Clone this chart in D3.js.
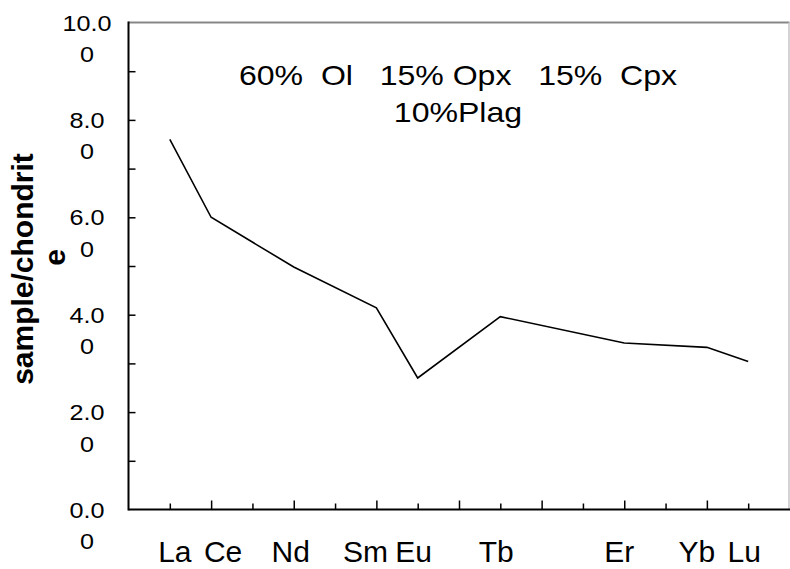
<!DOCTYPE html>
<html>
<head>
<meta charset="utf-8">
<script src="https://cdn.jsdelivr.net/npm/d3@7"></script>
<style>
  body { margin: 0; background: #fff; }
  svg { display: block; font-family: "Liberation Sans", Arial, sans-serif; }
</style>
</head>
<body>
<div id="chart"></div>
<script>
// REE pattern, sample / chondrite
const elements = ["La", "Ce", "Nd", "Sm", "Eu", "Tb", "Er", "Yb", "Lu"];
const elementPos = [1, 2, 4, 6, 7, 9, 12, 14, 15];
const values = [7.6, 6.0, 4.98, 4.14, 2.7, 3.96, 3.42, 3.33, 3.04];

const yTicks = [0, 2, 4, 6, 8, 10];
const yTickLabels = ["0.0|0", "2.0|0", "4.0|0", "6.0|0", "8.0|0", "10.0|0"];
const yTitle = ["sample/chondrit", "e"];
const noteLines = ["60%  Ol   15% Opx   15%  Cpx", "10%Plag"];

const width = 790, height = 569;
const plot = { left: 128.5, right: 789.5, top: 22.5, bottom: 509.5 };
const stretch = 1.145; // the original text boxes are a little wider than plain Arial

const svg = d3.select("#chart").append("svg")
  .attr("width", width)
  .attr("height", height);

const x = d3.scaleLinear().domain([0, 16]).range([plot.left, plot.right]);
const y = d3.scaleLinear().domain([0, 10]).range([plot.bottom, plot.top]);

// plot frame (top / right in grey like the original)
svg.append("line")
  .attr("x1", plot.left).attr("x2", plot.right)
  .attr("y1", plot.top).attr("y2", plot.top)
  .attr("stroke", "#878787").attr("stroke-width", 2);
svg.append("line")
  .attr("x1", plot.right - 0.5).attr("x2", plot.right - 0.5)
  .attr("y1", plot.top).attr("y2", plot.bottom)
  .attr("stroke", "#c4c4c4").attr("stroke-width", 1.5);

// x axis, ticks pointing inwards
const xAxis = d3.axisTop(x)
  .tickValues(d3.range(1, 16))
  .tickSize(6)
  .tickFormat("");
const gx = svg.append("g")
  .attr("transform", "translate(0," + plot.bottom + ")")
  .call(xAxis);
gx.select(".domain").remove();
gx.selectAll(".tick line")
  .attr("stroke", "#000").attr("stroke-width", 1.5)
  .attr("y2", d => d % 2 === 0 ? -9 : -6);

// y axis, ticks pointing inwards
const yAxis = d3.axisRight(y)
  .tickValues(d3.range(1, 10))
  .tickSize(7)
  .tickFormat("");
const gy = svg.append("g")
  .attr("transform", "translate(" + plot.left + ",0)")
  .call(yAxis);
gy.select(".domain").remove();
gy.selectAll(".tick line")
  .attr("stroke", "#000").attr("stroke-width", 1.5);

// axis lines
svg.append("line")
  .attr("x1", plot.left).attr("x2", width)
  .attr("y1", plot.bottom).attr("y2", plot.bottom)
  .attr("stroke", "#000").attr("stroke-width", 2);
svg.append("line")
  .attr("x1", plot.left).attr("x2", plot.left)
  .attr("y1", plot.top - 1).attr("y2", plot.bottom + 1)
  .attr("stroke", "#000").attr("stroke-width", 2);

// y tick labels, wrapped onto two lines
const yl = svg.append("g").selectAll("text")
  .data(yTicks)
  .join("text")
  .attr("transform", d => "translate(87," + (y(d) + 8) + ") scale(" + stretch + ",1)")
  .attr("text-anchor", "middle")
  .attr("font-size", 22)
  .attr("fill", "#000");
yl.each(function (d, i) {
  const parts = yTickLabels[i].split("|");
  const t = d3.select(this);
  parts.forEach((p, k) => {
    t.append("tspan")
      .attr("x", 0)
      .attr("y", k * 31.5)
      .text(p);
  });
});

// element labels under the axis
const nudge = { La: 5, Ce: 12, Nd: -3, Sm: -11, Eu: -4, Tb: -4, Er: -5, Yb: -10, Lu: -4 };
svg.append("g").selectAll("text")
  .data(elements)
  .join("text")
  .attr("x", (d, i) => x(elementPos[i]) + nudge[d])
  .attr("y", 562)
  .attr("text-anchor", "middle")
  .attr("font-size", 30)
  .attr("fill", "#000")
  .text(d => d);

// the pattern
const line = d3.line()
  .x((d, i) => x(elementPos[i]))
  .y(d => y(d));
svg.append("path")
  .datum(values)
  .attr("d", line)
  .attr("fill", "none")
  .attr("stroke", "#000")
  .attr("stroke-width", 1.6)
  .attr("stroke-linejoin", "miter");

// y axis title
const title = svg.append("text")
  .attr("transform", "translate(33,269) rotate(-90)")
  .attr("text-anchor", "middle")
  .attr("font-size", 30)
  .attr("font-weight", "bold")
  .attr("fill", "#000");
yTitle.forEach((s, k) => {
  title.append("tspan")
    .attr("x", k === 0 ? 0 : 11.5)
    .attr("y", k * 32)
    .text(s);
});

// mineral proportions note
svg.append("g").selectAll("text")
  .data(noteLines)
  .join("text")
  .attr("transform", (d, i) => "translate(458," + (85 + i * 36.7) + ") scale(" + stretch + ",1)")
  .attr("text-anchor", "middle")
  .attr("font-size", 28)
  .attr("fill", "#000")
  .style("white-space", "pre")
  .text(d => d);
</script>
</body>
</html>
